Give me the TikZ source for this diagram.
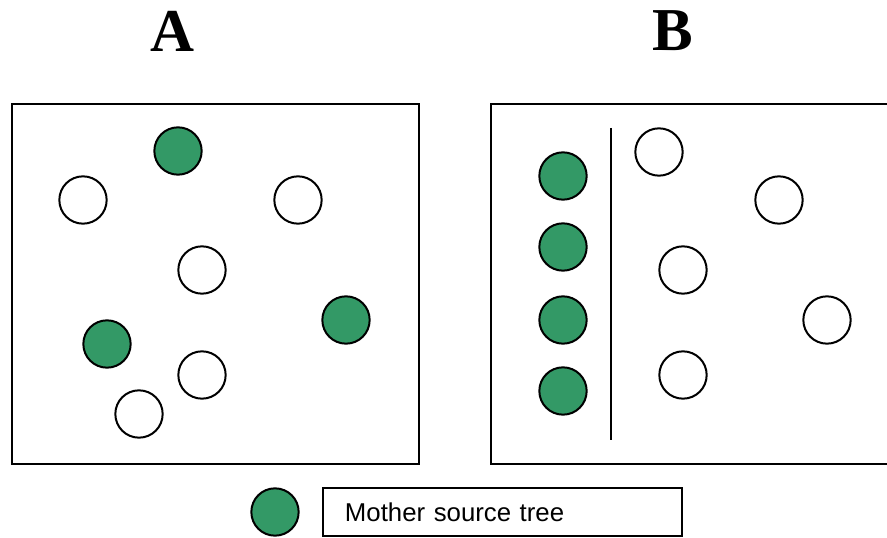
\documentclass[tikz,border=0pt]{standalone}
\usepackage{fontspec}
\setmainfont{Liberation Serif}
\newfontfamily\legendfont{Liberation Sans}
\usepackage{tikz}
\usetikzlibrary{positioning}
\definecolor{treegreen}{RGB}{51,153,102}
\tikzset{
    tree/.style={circle, draw, line width=0.06cm, minimum size=1.42cm, inner sep=0pt, fill=white},
    mother/.style={tree, fill=treegreen},
    plot/.style={draw, line width=0.06cm, inner sep=0pt},
    panel/.style={font=\fontsize{52}{60}\selectfont\bfseries}
}
\begin{document}
\begin{tikzpicture}[x=0.03cm, y=-0.03cm]
        \useasboundingbox (0,0) rectangle (887,538);
        % Panel letters
        \node[panel] (labA) at (172,31) {A};
        \node[panel] (labB) at (673,31) {B};
        % Plot A
        \node[plot, minimum width=12.21cm, minimum height=10.8cm] (plotA) at (215.5,284) {};
        \node[mother] (a1) at (178,151) {};
        \node[tree] (a2) at (83,200) {};
        \node[tree] (a3) at (298,200) {};
        \node[tree] (a4) at (202,270) {};
        \node[mother] (a5) at (346,320) {};
        \node[mother] (a6) at (107,344) {};
        \node[tree] (a7) at (202,375) {};
        \node[tree] (a8) at (139,414) {};
        % Plot B (runs off the right edge)
        \draw[line width=0.06cm] (900,104) -- (491,104) -- (491,464) -- (900,464);
        \coordinate (rowtop) at (611,128);
        \coordinate (rowbot) at (611,440);
        \draw[line width=0.06cm] (rowtop) -- (rowbot);
        \node[mother] (b1) at (563,176) {};
        \node[mother] (b2) at (563,247) {};
        \node[mother] (b3) at (563,320) {};
        \node[mother] (b4) at (563,391) {};
        \node[tree] (b5) at (659,152) {};
        \node[tree] (b6) at (779,200) {};
        \node[tree] (b7) at (683,270) {};
        \node[tree] (b8) at (827,320) {};
        \node[tree] (b9) at (683,375) {};
        % Legend
        \node[mother] (key) at (275,512) {};
        \node[plot, minimum height=1.44cm, text width=9.45cm, inner xsep=0.66cm, align=left,
              font=\legendfont\fontsize{22}{26}\selectfont] (keytext) at (502.5,512) {Mother source tree};
    \end{tikzpicture}
\end{document}
